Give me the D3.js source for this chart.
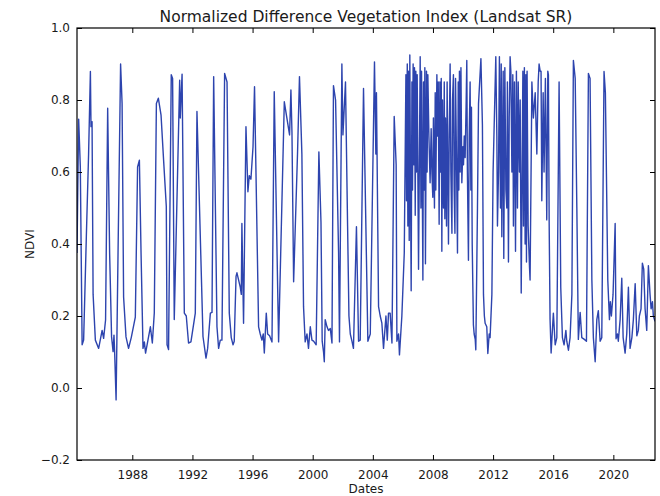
<!DOCTYPE html>
<html>
<head>
<meta charset="utf-8">
<script src="https://cdn.jsdelivr.net/npm/d3@7"></script>
<style>
  html, body { margin: 0; padding: 0; background: #fff; }
  svg { display: block; font-family: "DejaVu Sans", sans-serif; }
</style>
</head>
<body>
<svg id="chart" width="660" height="496"></svg>
<script>
// Acquisition times as fractional years
const years = [
  1984.32, 1984.43, 1984.54, 1984.66, 1984.76, 1984.94, 1985.09, 1985.21, 1985.25, 1985.32,
  1985.39, 1985.54, 1985.76, 1985.99, 1986.09, 1986.22, 1986.36, 1986.49, 1986.62, 1986.72,
  1986.78, 1986.82, 1986.92, 1987.05, 1987.22, 1987.32, 1987.42, 1987.58, 1987.75, 1987.93,
  1988.20, 1988.35, 1988.47, 1988.58, 1988.71, 1988.80, 1988.88, 1989.20, 1989.33, 1989.46,
  1989.60, 1989.73, 1989.91, 1990.08, 1990.26, 1990.31,
  1990.41, 1990.59, 1990.68, 1990.79, 1991.15, 1991.19, 1991.31, 1991.46, 1991.59, 1991.74,
  1991.90, 1992.19, 1992.30, 1992.70, 1992.90, 1993.01, 1993.19, 1993.30, 1993.41, 1993.63,
  1993.74, 1993.85, 1993.96, 1994.14, 1994.30, 1994.45, 1994.58, 1994.70, 1994.78, 1994.90,
  1994.96, 1995.18, 1995.25, 1995.29, 1995.40, 1995.56, 1995.69, 1995.78, 1995.89, 1996.03,
  1996.13, 1996.40, 1996.51, 1996.62, 1996.71, 1996.78, 1996.91, 1997.00, 1997.13, 1997.29,
  1997.44, 1997.73, 1998.11, 1998.46, 1998.55, 1998.62, 1998.73, 1998.99, 1999.12, 1999.28,
  1999.39, 1999.50, 1999.62, 1999.72, 1999.84, 1999.95, 2000.06, 2000.23, 2000.41, 2000.55,
  2000.63, 2000.72, 2000.77, 2000.83, 2000.95, 2001.05, 2001.17, 2001.28, 2001.38, 2001.52,
  2001.72, 2001.78, 2001.94, 2002.01, 2002.18, 2002.32, 2002.41, 2002.50, 2002.61, 2002.71,
  2002.91,
  2003.05, 2003.16, 2003.38, 2003.67, 2003.83, 2004.11, 2004.20, 2004.24, 2004.38, 2004.49,
  2004.60, 2004.71, 2004.87, 2004.96, 2005.04, 2005.15, 2005.27, 2005.42, 2005.55, 2005.60,
  2005.71, 2005.77, 2005.93, 2006.09, 2006.20,
  2006.24, 2006.29, 2006.33, 2006.37, 2006.42, 2006.46, 2006.50, 2006.55, 2006.60, 2006.64,
  2006.68, 2006.73, 2006.77, 2006.82, 2006.86, 2006.90, 2006.95, 2007.04, 2007.15, 2007.20,
  2007.24, 2007.33, 2007.37, 2007.42, 2007.46, 2007.50, 2007.57, 2007.61, 2007.66, 2007.73,
  2007.81, 2007.88, 2007.93, 2007.99, 2008.03, 2008.10, 2008.15, 2008.19, 2008.26, 2008.30,
  2008.35, 2008.41, 2008.46, 2008.50, 2008.55, 2008.59, 2008.63, 2008.70, 2008.75, 2008.79,
  2008.83, 2008.90, 2008.94, 2009.03, 2009.08, 2009.14, 2009.19, 2009.26, 2009.30, 2009.36,
  2009.41, 2009.46, 2009.50, 2009.56, 2009.63, 2009.68, 2009.72, 2009.76, 2009.81, 2009.86,
  2009.92, 2009.99, 2010.03, 2010.08, 2010.14, 2010.21, 2010.25, 2010.29, 2010.36, 2010.41,
  2010.47, 2010.52, 2010.56, 2010.61, 2010.69, 2010.74, 2010.81, 2010.85,
  2010.96, 2011.03, 2011.19, 2011.29, 2011.36, 2011.42, 2011.47, 2011.58, 2011.65, 2011.74,
  2011.80, 2011.92, 2012.00, 2012.18, 2012.25, 2012.29, 2012.36, 2012.42, 2012.49, 2012.54,
  2012.58, 2012.67, 2012.71, 2012.78, 2012.85, 2012.91, 2012.95, 2013.02, 2013.07, 2013.13,
  2013.18, 2013.25, 2013.31, 2013.35, 2013.42, 2013.49, 2013.55, 2013.62, 2013.67, 2013.71,
  2013.75, 2013.80, 2013.87, 2013.91, 2013.98, 2014.02, 2014.08, 2014.13, 2014.18, 2014.22,
  2014.26, 2014.33, 2014.42, 2014.46, 2014.58, 2014.68, 2014.80, 2014.91, 2015.00, 2015.06,
  2015.13, 2015.19, 2015.24, 2015.33, 2015.39, 2015.48, 2015.57, 2015.64, 2015.68, 2015.73,
  2015.79, 2015.86, 2016.01, 2016.13, 2016.24, 2016.39, 2016.50, 2016.61, 2016.72, 2016.84,
  2016.90, 2017.01, 2017.12, 2017.24, 2017.34, 2017.46, 2017.57, 2017.67, 2017.79, 2017.90,
  2018.07, 2018.21, 2018.34, 2018.45, 2018.57, 2018.67, 2018.79, 2018.90, 2019.00, 2019.12,
  2019.23, 2019.38, 2019.47, 2019.63, 2019.74, 2019.80, 2019.87, 2019.98, 2020.12, 2020.18,
  2020.27, 2020.33, 2020.45, 2020.56, 2020.65, 2020.78, 2020.89, 2021.00, 2021.11, 2021.23,
  2021.33, 2021.45, 2021.56, 2021.66, 2021.73, 2021.84, 2021.93, 2022.02, 2022.11, 2022.22,
  2022.33, 2022.44, 2022.51, 2022.60, 2022.66, 2022.77
];

// NDVI value for each acquisition
const ndvi = [
  0.375, 0.747, 0.614, 0.120, 0.133, 0.420, 0.650, 0.879, 0.726, 0.740,
  0.260, 0.133, 0.110, 0.160, 0.138, 0.189, 0.777, 0.375, 0.142, 0.101,
  0.147, 0.105, -0.033, 0.375, 0.900, 0.790, 0.253, 0.142, 0.110, 0.140,
  0.197, 0.614, 0.633, 0.375, 0.110, 0.128, 0.097, 0.170, 0.125, 0.208,
  0.790, 0.805, 0.758, 0.633, 0.504, 0.120,
  0.107, 0.870, 0.860, 0.190, 0.855, 0.750, 0.872, 0.208, 0.200, 0.125,
  0.128, 0.208, 0.768, 0.143, 0.083, 0.110, 0.208, 0.210, 0.865, 0.170,
  0.110, 0.133, 0.133, 0.874, 0.850, 0.208, 0.140, 0.120, 0.130, 0.310,
  0.320, 0.280, 0.260, 0.457, 0.180, 0.726, 0.545, 0.590, 0.580, 0.670,
  0.837, 0.170, 0.150, 0.133, 0.150, 0.097, 0.208, 0.150, 0.145, 0.128,
  0.823, 0.128, 0.795, 0.703, 0.828, 0.710, 0.295, 0.652, 0.865, 0.650,
  0.226, 0.128, 0.150, 0.110, 0.170, 0.133, 0.130, 0.120, 0.656, 0.460,
  0.130, 0.100, 0.073, 0.190, 0.170, 0.160, 0.165, 0.125, 0.840, 0.800,
  0.375, 0.128, 0.900, 0.703, 0.850, 0.450, 0.200, 0.150, 0.130, 0.110,
  0.448,
  0.130, 0.133, 0.832, 0.130, 0.150, 0.906, 0.650, 0.820, 0.226, 0.200,
  0.180, 0.110, 0.200, 0.133, 0.208, 0.208, 0.125, 0.754, 0.620, 0.130,
  0.150, 0.092, 0.200, 0.375, 0.870,
  0.520, 0.900, 0.450, 0.880, 0.410, 0.925, 0.600, 0.270, 0.850, 0.550,
  0.900, 0.620, 0.890, 0.480, 0.880, 0.600, 0.870, 0.330, 0.920, 0.500,
  0.880, 0.300, 0.850, 0.550, 0.890, 0.345, 0.880, 0.600, 0.870, 0.700,
  0.570, 0.720, 0.600, 0.530, 0.750, 0.500, 0.820, 0.550, 0.870, 0.700,
  0.850, 0.455, 0.850, 0.600, 0.860, 0.380, 0.800, 0.500, 0.850, 0.470,
  0.750, 0.450, 0.850, 0.400, 0.700, 0.900, 0.600, 0.430, 0.800, 0.870,
  0.550, 0.430, 0.860, 0.650, 0.375, 0.850, 0.550, 0.880, 0.600, 0.890,
  0.570, 0.670, 0.620, 0.700, 0.640, 0.800, 0.910, 0.600, 0.355, 0.700,
  0.850, 0.550, 0.780, 0.400, 0.175, 0.150, 0.135, 0.106,
  0.500, 0.790, 0.915, 0.730, 0.260, 0.200, 0.180, 0.170, 0.096, 0.150,
  0.140, 0.260, 0.600, 0.920, 0.700, 0.450, 0.600, 0.920, 0.500, 0.900,
  0.420, 0.880, 0.360, 0.890, 0.550, 0.500, 0.850, 0.350, 0.750, 0.920,
  0.880, 0.600, 0.870, 0.450, 0.850, 0.380, 0.880, 0.500, 0.850, 0.700,
  0.600, 0.800, 0.264, 0.500, 0.880, 0.450, 0.890, 0.400, 0.870, 0.350,
  0.880, 0.450, 0.337, 0.300, 0.850, 0.750, 0.820, 0.650, 0.850, 0.900,
  0.880, 0.880, 0.520, 0.820, 0.600, 0.860, 0.467, 0.880, 0.870, 0.460,
  0.190, 0.097, 0.208, 0.120, 0.140, 0.850, 0.280, 0.140, 0.120, 0.160,
  0.130, 0.105, 0.140, 0.260, 0.910, 0.860, 0.500, 0.135, 0.210, 0.140,
  0.135, 0.130, 0.874, 0.860, 0.300, 0.140, 0.073, 0.190, 0.215, 0.130,
  0.140, 0.879, 0.820, 0.300, 0.190, 0.240, 0.200, 0.260, 0.457, 0.137,
  0.150, 0.130, 0.190, 0.305, 0.140, 0.097, 0.150, 0.280, 0.110, 0.140,
  0.190, 0.290, 0.145, 0.160, 0.200, 0.220, 0.347, 0.330, 0.220, 0.160,
  0.340, 0.260, 0.220, 0.240, 0.200, 0.185
];

const yTicks = [-0.2, 0.0, 0.2, 0.4, 0.6, 0.8, 1.0];
const xTickYears = [1988, 1992, 1996, 2000, 2004, 2008, 2012, 2016, 2020];

const titleText = "Normalized Difference Vegetation Index (Landsat SR)";
const xLabel = "Dates";
const yLabel = "NDVI";

// fractional year -> Date
function toDate(fy) {
  const y = Math.floor(fy);
  const start = Date.UTC(y, 0, 1);
  const end = Date.UTC(y + 1, 0, 1);
  return new Date(start + (fy - y) * (end - start));
}

const series = years.map((y, i) => ({ date: toDate(y), value: ndvi[i] }));

const margin = { left: 77, right: 5, top: 28, bottom: 36 };
const W = 660, H = 496;
const x0 = margin.left, x1 = W - margin.right;
const y0 = margin.top, y1 = H - margin.bottom;

const svg = d3.select("#chart");
svg.append("rect").attr("width", W).attr("height", H).attr("fill", "#fff");

const x = d3.scaleUtc()
  .domain(d3.extent(series, d => d.date))
  .range([x0, x1]);
const y = d3.scaleLinear().domain([-0.2, 1.0]).range([y1, y0]);

const xTickDates = xTickYears.map(yr => new Date(Date.UTC(yr, 0, 1)));

// data line, clipped to the axes box
svg.append("clipPath").attr("id", "plot-clip")
  .append("rect").attr("x", x0).attr("y", y0).attr("width", x1 - x0).attr("height", y1 - y0);

svg.append("path")
  .datum(series)
  .attr("clip-path", "url(#plot-clip)")
  .attr("fill", "none")
  .attr("stroke", "#2d44ae")
  .attr("stroke-width", 1.4)
  .attr("stroke-linejoin", "round")
  .attr("d", d3.line().x(d => x(d.date)).y(d => y(d.value)));

const tickLen = 5;
const fmtY = v => (v < 0 ? "\u2212" : "") + Math.abs(v).toFixed(1);

// bottom axis: inward ticks, labels below
const gx = svg.append("g").attr("transform", `translate(0,${y1})`)
  .call(d3.axisBottom(x).tickValues(xTickDates).tickFormat(d3.utcFormat("%Y"))
    .tickSizeInner(-tickLen).tickSizeOuter(0).tickPadding(10));
// top axis: ticks only
const gxt = svg.append("g").attr("transform", `translate(0,${y0})`)
  .call(d3.axisTop(x).tickValues(xTickDates).tickFormat("")
    .tickSizeInner(-tickLen).tickSizeOuter(0));
// left axis
const gy = svg.append("g").attr("transform", `translate(${x0},0)`)
  .call(d3.axisLeft(y).tickValues(yTicks).tickFormat(fmtY)
    .tickSizeInner(-tickLen).tickSizeOuter(0).tickPadding(7));
// right axis: ticks only
const gyr = svg.append("g").attr("transform", `translate(${x1},0)`)
  .call(d3.axisRight(y).tickValues(yTicks).tickFormat("")
    .tickSizeInner(-tickLen).tickSizeOuter(0));

[gx, gxt, gy, gyr].forEach(g => {
  g.select(".domain").remove();
  g.selectAll(".tick line").attr("stroke", "#000").attr("stroke-width", 1);
  g.selectAll(".tick text").attr("fill", "#1a1a1a")
    .style("font-family", "DejaVu Sans").style("font-size", "12px");
});

// axes frame
svg.append("rect")
  .attr("x", x0).attr("y", y0).attr("width", x1 - x0).attr("height", y1 - y0)
  .attr("fill", "none").attr("stroke", "#000").attr("stroke-width", 1.2);

// title and axis labels
svg.append("text")
  .attr("x", (x0 + x1) / 2).attr("y", 22)
  .attr("text-anchor", "middle")
  .style("font-size", "15.5px").attr("fill", "#1a1a1a")
  .text(titleText);

svg.append("text")
  .attr("x", (x0 + x1) / 2).attr("y", 493)
  .attr("text-anchor", "middle")
  .style("font-size", "12px").attr("fill", "#1a1a1a")
  .text(xLabel);

svg.append("text")
  .attr("transform", `translate(34,${(y0 + y1) / 2}) rotate(-90)`)
  .attr("text-anchor", "middle")
  .style("font-size", "12px").attr("fill", "#1a1a1a")
  .text(yLabel);
</script>
</body>
</html>
